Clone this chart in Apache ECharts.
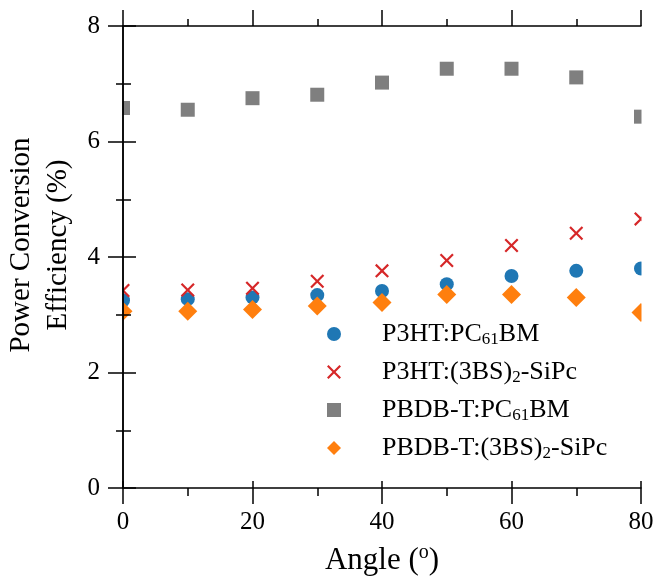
<!DOCTYPE html>
<html>
<head>
<meta charset="utf-8">
<script src="https://cdn.jsdelivr.net/npm/echarts@6/dist/echarts.min.js"></script>
<style>html,body{margin:0;padding:0;background:#fff;}#c{width:655px;height:577px;}</style>
</head>
<body>
<div id="c"></div>
<script>
const angles = [0, 10, 20, 30, 40, 50, 60, 70, 80];
const p3htPcbm = [3.25, 3.27, 3.30, 3.34, 3.41, 3.53, 3.67, 3.76, 3.80];
const p3htSipc = [3.42, 3.43, 3.46, 3.58, 3.76, 3.94, 4.20, 4.41, 4.66];
const pbdbPcbm = [6.58, 6.55, 6.75, 6.81, 7.02, 7.26, 7.26, 7.11, 6.43];
const pbdbSipc = [3.06, 3.06, 3.09, 3.15, 3.21, 3.35, 3.35, 3.30, 3.04];
const seriesNames = ['P3HT:PC61BM', 'P3HT:(3BS)2-SiPc', 'PBDB-T:PC61BM', 'PBDB-T:(3BS)2-SiPc'];
const legendLabels = {
  'P3HT:PC61BM': '{a|P3HT:PC}{sub|61}{a|BM}',
  'P3HT:(3BS)2-SiPc': '{a|P3HT:(3BS)}{sub|2}{a|-SiPc}',
  'PBDB-T:PC61BM': '{a|PBDB-T:PC}{sub|61}{a|BM}',
  'PBDB-T:(3BS)2-SiPc': '{a|PBDB-T:(3BS)}{sub|2}{a|-SiPc}'
};
const xTicks = [0, 20, 40, 60, 80];
const yTicks = [0, 2, 4, 6, 8];

const FONT = '"Liberation Serif", "DejaVu Serif", serif';
const crossPath = 'path://M0,11L11,0L50,39L89,0L100,11L61,50L100,89L89,100L50,61L11,100L0,89L39,50Z';
const pair = arr => angles.map((a, i) => [a, arr[i]]);

const chart = echarts.init(document.getElementById('c'));
const axisLine = { show: true, lineStyle: { color: '#000', width: 1.5 } };
const tickStyle = { color: '#000', width: 1.5 };

const G = { left: 123, right: 14, top: 26, bottom: 89 };
const W = 655, H = 577;

chart.setOption({
  animation: false,
  backgroundColor: '#fff',
  grid: { left: G.left, right: G.right, top: G.top, bottom: G.bottom, containLabel: false, outerBoundsMode: 'none' },
  xAxis: [
    {
      type: 'value', position: 'bottom', min: 0, max: 80, interval: 20, z: 10,
      axisLine: axisLine,
      axisTick: { show: true, inside: false, length: 16, lineStyle: tickStyle },
      minorTick: { show: true, splitNumber: 2, length: 8, lineStyle: tickStyle },
      axisLabel: { color: '#000', fontFamily: FONT, fontSize: 25, margin: 22,
        formatter: v => xTicks.includes(v) ? String(v) : '' },
      splitLine: { show: false },
      name: '{a|Angle (}{s|o}{a|)}', nameLocation: 'middle', nameGap: 55,
      nameTextStyle: { rich: {
        a: { fontFamily: FONT, fontSize: 31, color: '#000', lineHeight: 36 },
        s: { fontFamily: FONT, fontSize: 20, color: '#000', lineHeight: 22, verticalAlign: 'top' }
      } }
    },
    {
      type: 'value', position: 'bottom', min: 0, max: 80, interval: 20, z: 10,
      axisLine: { show: false },
      axisTick: { show: true, inside: true, length: 7, lineStyle: tickStyle },
      axisLabel: { show: false }, splitLine: { show: false }
    },
    {
      type: 'value', position: 'top', min: 0, max: 80, interval: 20, z: 10,
      axisLine: axisLine,
      axisTick: { show: true, inside: false, length: 16, lineStyle: tickStyle },
      minorTick: { show: true, splitNumber: 2, length: 7, lineStyle: tickStyle },
      axisLabel: { show: false }, splitLine: { show: false }
    }
  ],
  yAxis: [
    {
      type: 'value', position: 'left', min: 0, max: 8, interval: 2, z: 10,
      axisLine: axisLine,
      axisTick: { show: true, inside: false, length: 15, lineStyle: tickStyle },
      minorTick: { show: true, splitNumber: 2, length: 7, lineStyle: tickStyle },
      axisLabel: { color: '#000', fontFamily: FONT, fontSize: 25, margin: 23,
        formatter: v => yTicks.includes(v) ? String(v) : '' },
      splitLine: { show: false },
      name: 'Power Conversion\nEfficiency (%)', nameLocation: 'middle', nameGap: 46,
      nameTextStyle: { fontFamily: FONT, fontSize: 29, color: '#000', lineHeight: 37, padding: [0, 0, 0, 24] }
    },
    {
      type: 'value', position: 'right', min: 0, max: 8, interval: 2, z: 10,
      axisLine: axisLine,
      axisTick: { show: true, inside: false, length: 13, lineStyle: tickStyle },
      minorTick: { show: true, splitNumber: 2, length: 8, lineStyle: tickStyle },
      axisLabel: { show: false }, splitLine: { show: false }
    }
  ],
  legend: {
    orient: 'vertical', left: 322, top: 316, z: 20,
    itemWidth: 14, itemHeight: 14, itemGap: 11,
    data: seriesNames,
    formatter: name => legendLabels[name],
    textStyle: {
      padding: [0, 0, 0, 36],
      rich: {
        a: { fontFamily: FONT, fontSize: 26, color: '#000', lineHeight: 28 },
        sub: { fontFamily: FONT, fontSize: 17, color: '#000', lineHeight: 15, verticalAlign: 'bottom' }
      }
    }
  },
  graphic: [
    { type: 'rect', z: 5, silent: true, shape: { x: 0, y: 0, width: G.left - 0.5, height: H }, style: { fill: '#fff' } },
    { type: 'rect', z: 5, silent: true, shape: { x: W - G.right + 0.5, y: 0, width: G.right, height: H }, style: { fill: '#fff' } },
    { type: 'rect', z: 5, silent: true, shape: { x: 0, y: 0, width: W, height: G.top - 0.5 }, style: { fill: '#fff' } },
    { type: 'rect', z: 5, silent: true, shape: { x: 0, y: H - G.bottom + 0.5, width: W, height: G.bottom }, style: { fill: '#fff' } }
  ],
  series: [
    { name: seriesNames[0], type: 'scatter', data: pair(p3htPcbm), symbol: 'circle', symbolSize: 14,
      itemStyle: { color: '#1f77b4', opacity: 1 } },
    { name: seriesNames[1], type: 'scatter', data: pair(p3htSipc), symbol: crossPath, symbolSize: 14,
      itemStyle: { color: '#d62728', opacity: 1 } },
    { name: seriesNames[2], type: 'scatter', data: pair(pbdbPcbm), symbol: 'rect', symbolSize: 14,
      itemStyle: { color: '#7f7f7f', opacity: 1 } },
    { name: seriesNames[3], type: 'scatter', data: pair(pbdbSipc), symbol: 'diamond', symbolSize: [19, 19],
      itemStyle: { color: '#ff7f0e', opacity: 1 } }
  ]
});
</script>
</body>
</html>
